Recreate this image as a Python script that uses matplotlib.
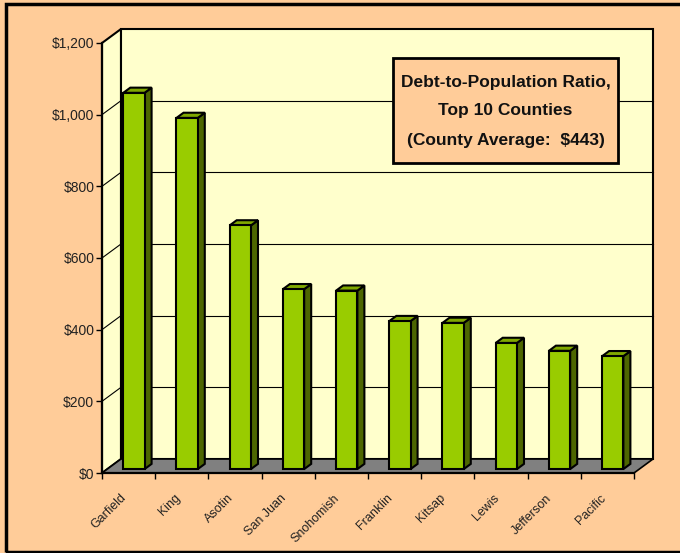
import matplotlib
matplotlib.use("Agg")
import matplotlib.pyplot as plt
from matplotlib.patches import Polygon, Rectangle
from matplotlib.ticker import FuncFormatter, FixedLocator

counties = ["Garfield", "King", "Asotin", "San Juan", "Snohomish",
            "Franklin", "Kitsap", "Lewis", "Jefferson", "Pacific"]
ratios = [1050, 980, 680, 502, 498, 413, 408, 352, 330, 315]
y_ticks = [0, 200, 400, 600, 800, 1000, 1200]
title_lines = ["Debt-to-Population Ratio,", "Top 10 Counties", "(County Average:  $443)"]

W, H = 680, 553
BG = "#FFCC99"
WALL = "#FFFFCC"
FLOOR = "#808080"
FRONT = "#99CC00"
SIDE = "#4D6600"
TOP = "#80A800"
FONT = ["Liberation Sans", "DejaVu Sans"]

fig = plt.figure(figsize=(W / 100, H / 100), dpi=100, facecolor=BG)
ax = fig.add_axes([0, 0, 1, 1])
ax.set_facecolor("none")

n = len(counties)
ymax = y_ticks[-1]
# pixel layout of the front plot area
px_left, px_right = 102, 634
py_zero, py_top = 473, 43
kx = (px_right - px_left) / n
ky = (py_zero - py_top) / ymax
ax.set_xlim(-px_left / kx, (W - px_left) / kx)
ax.set_ylim(-(H - py_zero) / ky, py_zero / ky)

DX = 19 / kx
DY = 14 / ky

# left side wall
ax.add_patch(Polygon([(0, 0), (DX, DY), (DX, ymax + DY), (0, ymax)],
                     closed=True, facecolor=WALL, edgecolor="black", lw=1.5, zorder=1))
# back wall
ax.add_patch(Rectangle((DX, DY), n, ymax, facecolor=WALL, edgecolor="black", lw=1.5, zorder=1))
# floor
ax.add_patch(Polygon([(0, 0), (n, 0), (n + DX, DY), (DX, DY)],
                     closed=True, facecolor=FLOOR, edgecolor="black", lw=1.2, zorder=2))
# gridlines
for v in y_ticks[1:-1]:
    ax.plot([0, DX], [v, v + DY], color="black", lw=0.8, zorder=1.5)
    ax.plot([DX, n + DX], [v + DY, v + DY], color="black", lw=0.8, zorder=1.5)

# bars
w = 0.4
f0, f1 = 0.28, 0.65
d = f1 - f0
for i, v in enumerate(ratios):
    x0 = i + 0.5 - w / 2 + f0 * DX
    y0 = f0 * DY
    kw = dict(closed=True, edgecolor="black", lw=1.5, joinstyle="miter", zorder=5)
    ax.add_patch(Polygon([(x0 + w, y0), (x0 + w + d * DX, y0 + d * DY),
                          (x0 + w + d * DX, y0 + v + d * DY), (x0 + w, y0 + v)],
                         facecolor=SIDE, **kw))
    ax.add_patch(Polygon([(x0, y0 + v), (x0 + w, y0 + v),
                          (x0 + w + d * DX, y0 + v + d * DY), (x0 + d * DX, y0 + v + d * DY)],
                         facecolor=TOP, **kw))
    ax.add_patch(Rectangle((x0, y0), w, v, facecolor=FRONT, edgecolor="black",
                           lw=1.5, joinstyle="miter", zorder=6))

# axes spines / ticks
for s in ["top", "right"]:
    ax.spines[s].set_visible(False)
ax.spines["left"].set_position(("data", 0))
ax.spines["left"].set_bounds(0, ymax)
ax.spines["left"].set_linewidth(1.6)
ax.spines["left"].set_zorder(7)
ax.spines["bottom"].set_position(("data", 0))
ax.spines["bottom"].set_bounds(0, n)
ax.spines["bottom"].set_linewidth(1.6)
ax.spines["bottom"].set_zorder(7)

ax.yaxis.set_major_locator(FixedLocator(y_ticks))
ax.yaxis.set_major_formatter(FuncFormatter(lambda v, p: "${:,.0f}".format(v)))
ax.tick_params(axis="y", direction="out", length=4, width=1, pad=1.5, labelsize=10,
               labelcolor="#222222")
for lab in ax.get_yticklabels():
    lab.set_family(FONT)

ax.xaxis.set_major_locator(FixedLocator(list(range(n + 1))))
ax.set_xticklabels([])
ax.tick_params(axis="x", which="major", direction="out", length=4.5, width=1)
for i, name in enumerate(counties):
    ax.annotate(name, xy=(i + 0.5, 0), xytext=(-8, -19), textcoords="offset pixels",
                ha="right", va="top", rotation=45, rotation_mode="anchor",
                fontsize=9, family=FONT, color="#222222")

# title box
bx0, by0, bx1, by1 = 393, 58, 618, 163
fig.patches.append(Rectangle((bx0 / W, 1 - by1 / H), (bx1 - bx0) / W, (by1 - by0) / H,
                             transform=fig.transFigure, facecolor=BG, edgecolor="black",
                             lw=2, zorder=10))
for line, yc in zip(title_lines, [82, 111, 140]):
    fig.text((bx0 + bx1) / 2 / W, 1 - yc / H, line, ha="center", va="center",
             fontsize=12.5, fontweight="bold", family=FONT, zorder=11, color="#111111")

# outer border
fig.patches.append(Rectangle((6 / W, 1 / H), 690 / W, 548 / H, transform=fig.transFigure,
                             facecolor="none", edgecolor="black", lw=2.5, zorder=12))

fig.savefig("out.png", dpi=100, facecolor=BG)
